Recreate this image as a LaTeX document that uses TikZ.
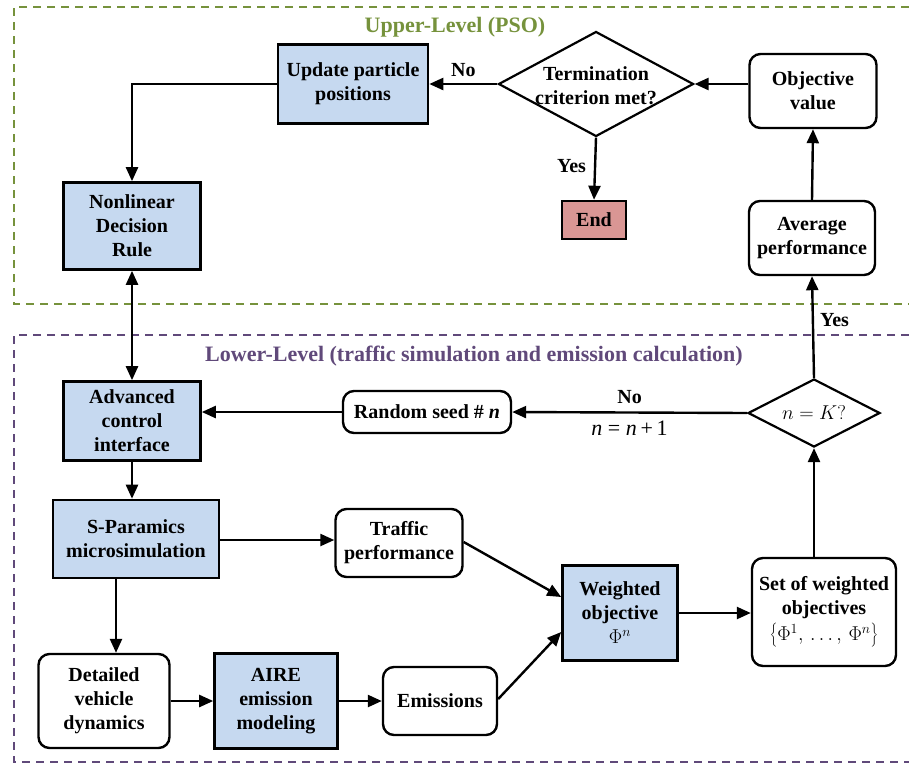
\RequirePackage{fix-cm}
\documentclass[tikz,border=0pt]{standalone}
\usepackage[no-math]{fontspec}
\setmainfont{Liberation Serif}
\usetikzlibrary{shapes.geometric,arrows.meta}
\definecolor{boxblue}{RGB}{198,217,240}
\definecolor{endred}{RGB}{217,150,148}
\definecolor{uppergreen}{RGB}{118,146,60}
\definecolor{lowerpurple}{RGB}{96,73,122}

\begin{document}
\begin{tikzpicture}[x=1pt,y=-1pt,
  every node/.style={font=\fontsize{20}{24}\selectfont\bfseries, align=center, inner sep=0pt},
  procbox/.style={draw, line width=2.6pt, fill=boxblue, rectangle},
  roundbox/.style={draw, line width=2.4pt, fill=white, rounded corners=11pt},
  endbox/.style={draw, line width=2.6pt, fill=endred, rectangle},
  decision/.style={draw, line width=2.2pt, fill=white, diamond, inner sep=0pt},
  flow/.style={line width=2.4pt, -{Triangle[length=14pt,width=12pt]}},
  biflow/.style={line width=2.4pt, {Triangle[length=14pt,width=12pt]}-{Triangle[length=14pt,width=12pt]}},
  region/.style={line width=2.2pt, dash pattern=on 8pt off 6pt},
  regiontitle/.style={font=\fontsize{22}{26}\selectfont\bfseries}
]
\useasboundingbox (0,0) rectangle (909,764);

% level frames
\draw[region, uppergreen] (909,7) -- (14,7) -- (14,304) -- (909,304);
\draw[region, lowerpurple] (909,335) -- (14,335) -- (14,762) -- (909,762);
\node[regiontitle, text=uppergreen] (uptitle) at (455,27) {Upper-Level (PSO)};
\node[regiontitle, text=lowerpurple] (lowtitle) at (474,356) {Lower-Level (traffic simulation and emission calculation)};

% upper level
\node[procbox, minimum width=150, minimum height=79] (update) at (353,84) {Update particle\\positions};
\node[decision, minimum width=195, minimum height=105] (term) at (596,84) {};
\node (termtext) at (596,86) {Termination\\criterion met?};
\node[roundbox, minimum width=127, minimum height=74] (obj) at (813,91) {Objective\\value};
\node[procbox, minimum width=137, minimum height=87] (rule) at (132,226) {Nonlinear\\Decision\\Rule};
\node[endbox, minimum width=64, minimum height=38] (stop) at (594,220) {End};
\node[roundbox, minimum width=126, minimum height=74] (avg) at (812,238) {Average\\performance};

% lower level
\node[procbox, minimum width=137, minimum height=79] (aci) at (132,421) {Advanced\\control\\interface};
\node[roundbox, minimum width=168, minimum height=42] (seed) at (427,412) {Random seed \# \textit{n}};
\node[decision, minimum width=132, minimum height=68] (nk) at (814,413) {};
\node[font=\fontsize{20}{24}\selectfont] (nktext) at (814,413) {$n = K?$};
\node[procbox, minimum width=166, minimum height=78] (spar) at (136,539) {S-Paramics\\microsimulation};
\node[roundbox, minimum width=127, minimum height=68] (traffic) at (399,543) {Traffic\\performance};
\node[procbox, minimum width=115, minimum height=95] (wobj) at (620,613) {Weighted\\objective\\$\Phi^n$};
\node[roundbox, minimum width=144, minimum height=108] (set) at (824,612) {Set of weighted\\objectives\\[2pt]$\left\{\Phi^1,\,\ldots,\,\Phi^n\right\}$};
\node[roundbox, minimum width=131, minimum height=94] (veh) at (104,701) {Detailed\\vehicle\\dynamics};
\node[procbox, minimum width=123, minimum height=95] (aire) at (276,701) {AIRE\\emission\\modeling};
\node[roundbox, minimum width=114, minimum height=68] (emis) at (440,701) {Emissions};

% upper connectors
\draw[flow] (term.west) -- node[above=6pt] (nolab) {No} (update.east);
\draw[flow] (obj.west |- term.east) -- (term.east);
\draw[flow] (term.south) -- node[left=8pt, pos=0.45] (yeslab) {Yes} (stop.north);
\draw[flow] (avg.north) -- (obj.south);
\draw[flow] (update.west) -| (rule.north);
\draw[biflow] (rule.south) -- (aci.north);

% lower connectors
\draw[flow] (nk.north) -- node[right=6pt, pos=0.57] (yes2lab) {Yes} (avg.south);
\draw[flow] (nk.west) -- node[above=8pt] (no2lab) {No}
  node[below=7pt, font=\fontsize{22}{26}\selectfont] (inclab) {\textit{n} = \textit{n}\,+\,1} (seed.east);
\draw[flow] (seed.west) -- (aci.east |- seed.west);
\draw[flow] (aci.south) -- (aci.south |- spar.north);
\draw[flow] (spar.east |- 0,540) -- (traffic.west |- 0,540);
\draw[flow] ([xshift=-20pt]spar.south) -- ([xshift=-20pt]spar.south |- veh.north);
\draw[flow] (veh.east) -- (aire.west);
\draw[flow] (aire.east) -- (emis.west);
\draw[flow] (traffic.east |- 0,542) -- (wobj.west |- 0,597);
\draw[flow] (emis.east |- 0,699) -- (wobj.west |- 0,632);
\draw[flow] (wobj.east) -- (set.west |- wobj.east);
\draw[flow] (nk.south |- set.north) -- (nk.south);
\end{tikzpicture}
\end{document}
